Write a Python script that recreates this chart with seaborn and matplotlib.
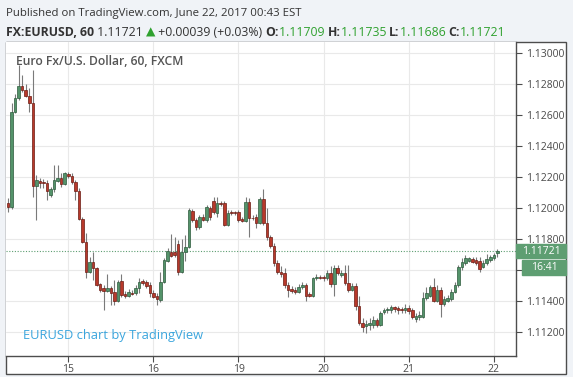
"""
EURUSD 60-minute candles, TradingView style snapshot (June 14-22, 2017)
"""

import numpy as np
import pandas as pd
import matplotlib
matplotlib.use("Agg")
import matplotlib.pyplot as plt
from matplotlib.patches import Rectangle
from matplotlib.transforms import IdentityTransform
import seaborn as sns

# ── Data ───────────────────────────────────────────────────────────────────────
OPENS = [
    1.12034, 1.12005, 1.12622, 1.12708, 1.12787, 1.12761, 1.12722, 1.12675, 1.12142, 1.12176,
    1.12170, 1.12163, 1.12084, 1.12121, 1.12176, 1.12192, 1.12158, 1.12219, 1.12206, 1.12170,
    1.12112, 1.11927, 1.11783, 1.11589, 1.11654, 1.11611, 1.11509, 1.11484, 1.11462, 1.11485,
    1.11458, 1.11400, 1.11531, 1.11443, 1.11434, 1.11453, 1.11450, 1.11482, 1.11529, 1.11521,
    1.11503, 1.11453, 1.11434, 1.11406, 1.11521, 1.11660, 1.11718, 1.11718, 1.11768, 1.11589,
    1.11718, 1.11750, 1.11981, 1.11923, 1.11875, 1.11944, 1.11923, 1.11998, 1.12047, 1.11970,
    1.12030, 1.12030, 1.11890, 1.11976, 1.11972, 1.11976, 1.11929, 1.11918, 1.12041, 1.11937,
    1.11944, 1.11905, 1.12058, 1.11901, 1.11811, 1.11757, 1.11643, 1.11589, 1.11579, 1.11503,
    1.11477, 1.11471, 1.11460, 1.11489, 1.11505, 1.11443, 1.11434, 1.11547, 1.11557, 1.11553,
    1.11547, 1.11579, 1.11509, 1.11611, 1.11566, 1.11581, 1.11519, 1.11471, 1.11494, 1.11368,
    1.11256, 1.11240, 1.11244, 1.11244, 1.11277, 1.11248, 1.11329, 1.11339, 1.11342, 1.11361,
    1.11355, 1.11348, 1.11339, 1.11355, 1.11339, 1.11282, 1.11295, 1.11299, 1.11418, 1.11434,
    1.11489, 1.11403, 1.11471, 1.11381, 1.11403, 1.11411, 1.11460, 1.11503, 1.11618, 1.11643,
    1.11660, 1.11669, 1.11665, 1.11658, 1.11621, 1.11643, 1.11665, 1.11676, 1.11709,
]
HIGHS = [
    1.12063, 1.12679, 1.12733, 1.12922, 1.12858, 1.12800, 1.12774, 1.12890, 1.12213, 1.12192,
    1.12187, 1.12181, 1.12137, 1.12277, 1.12277, 1.12224, 1.12234, 1.12232, 1.12224, 1.12181,
    1.12127, 1.11944, 1.11837, 1.11686, 1.11718, 1.11622, 1.11518, 1.11503, 1.11572, 1.11496,
    1.11535, 1.11535, 1.11572, 1.11465, 1.11477, 1.11471, 1.11503, 1.11547, 1.11542, 1.11535,
    1.11525, 1.11471, 1.11450, 1.11589, 1.11678, 1.11740, 1.11832, 1.11815, 1.11794, 1.11800,
    1.11826, 1.12000, 1.11994, 1.11935, 1.11955, 1.11961, 1.12019, 1.12013, 1.12073, 1.12071,
    1.12045, 1.12045, 1.11987, 1.11987, 1.11983, 1.11987, 1.11942, 1.12071, 1.12065, 1.11955,
    1.11961, 1.12071, 1.12121, 1.12000, 1.11826, 1.11774, 1.11665, 1.11626, 1.11613, 1.11522,
    1.11497, 1.11490, 1.11509, 1.11522, 1.11516, 1.11458, 1.11555, 1.11574, 1.11568, 1.11568,
    1.11600, 1.11626, 1.11632, 1.11632, 1.11600, 1.11632, 1.11632, 1.11516, 1.11516, 1.11432,
    1.11290, 1.11277, 1.11290, 1.11303, 1.11290, 1.11335, 1.11355, 1.11361, 1.11374, 1.11368,
    1.11368, 1.11361, 1.11381, 1.11374, 1.11355, 1.11323, 1.11335, 1.11458, 1.11490, 1.11503,
    1.11547, 1.11503, 1.11490, 1.11432, 1.11439, 1.11477, 1.11522, 1.11632, 1.11678, 1.11697,
    1.11684, 1.11684, 1.11684, 1.11686, 1.11665, 1.11703, 1.11697, 1.11710, 1.11735,
]
LOWS = [
    1.11976, 1.11992, 1.12611, 1.12697, 1.12748, 1.12716, 1.12621, 1.12073, 1.11923, 1.12127,
    1.12129, 1.12052, 1.12073, 1.12105, 1.12170, 1.12137, 1.12150, 1.12194, 1.12155, 1.12052,
    1.11923, 1.11772, 1.11547, 1.11579, 1.11535, 1.11497, 1.11458, 1.11342, 1.11455, 1.11371,
    1.11371, 1.11393, 1.11428, 1.11419, 1.11426, 1.11439, 1.11439, 1.11450, 1.11503, 1.11484,
    1.11428, 1.11419, 1.11371, 1.11395, 1.11516, 1.11654, 1.11684, 1.11686, 1.11568, 1.11580,
    1.11660, 1.11742, 1.11910, 1.11858, 1.11865, 1.11916, 1.11910, 1.11923, 1.11961, 1.11942,
    1.12013, 1.11884, 1.11884, 1.11955, 1.11955, 1.11910, 1.11910, 1.11910, 1.11810, 1.11923,
    1.11871, 1.11897, 1.11890, 1.11794, 1.11742, 1.11626, 1.11574, 1.11555, 1.11484, 1.11426,
    1.11452, 1.11445, 1.11452, 1.11477, 1.11400, 1.11426, 1.11426, 1.11535, 1.11542, 1.11529,
    1.11535, 1.11490, 1.11432, 1.11568, 1.11555, 1.11503, 1.11458, 1.11465, 1.11342, 1.11243,
    1.11200, 1.11194, 1.11213, 1.11226, 1.11232, 1.11240, 1.11316, 1.11323, 1.11323, 1.11329,
    1.11316, 1.11323, 1.11323, 1.11316, 1.11284, 1.11265, 1.11277, 1.11290, 1.11407, 1.11426,
    1.11394, 1.11394, 1.11299, 1.11368, 1.11394, 1.11400, 1.11452, 1.11490, 1.11600, 1.11632,
    1.11652, 1.11645, 1.11632, 1.11589, 1.11613, 1.11632, 1.11652, 1.11665, 1.11686,
]
CLOSES = [
    1.12005, 1.12622, 1.12708, 1.12787, 1.12761, 1.12722, 1.12675, 1.12142, 1.12181, 1.12163,
    1.12159, 1.12112, 1.12121, 1.12181, 1.12192, 1.12155, 1.12224, 1.12206, 1.12170, 1.12112,
    1.11927, 1.11783, 1.11589, 1.11654, 1.11611, 1.11503, 1.11471, 1.11465, 1.11485, 1.11453,
    1.11398, 1.11525, 1.11439, 1.11432, 1.11456, 1.11445, 1.11486, 1.11525, 1.11514, 1.11497,
    1.11450, 1.11428, 1.11411, 1.11525, 1.11665, 1.11725, 1.11690, 1.11697, 1.11589, 1.11718,
    1.11750, 1.11987, 1.11923, 1.11875, 1.11944, 1.11923, 1.12005, 1.11944, 1.11976, 1.12034,
    1.12024, 1.11890, 1.11970, 1.11966, 1.11966, 1.11923, 1.11918, 1.12041, 1.11933, 1.11933,
    1.11905, 1.12058, 1.11901, 1.11811, 1.11757, 1.11643, 1.11589, 1.11574, 1.11503, 1.11471,
    1.11465, 1.11460, 1.11489, 1.11505, 1.11434, 1.11434, 1.11547, 1.11557, 1.11550, 1.11547,
    1.11579, 1.11509, 1.11611, 1.11579, 1.11581, 1.11517, 1.11471, 1.11497, 1.11368, 1.11256,
    1.11230, 1.11251, 1.11255, 1.11277, 1.11248, 1.11322, 1.11339, 1.11348, 1.11361, 1.11348,
    1.11339, 1.11339, 1.11355, 1.11335, 1.11297, 1.11303, 1.11310, 1.11418, 1.11450, 1.11489,
    1.11403, 1.11468, 1.11381, 1.11413, 1.11418, 1.11460, 1.11503, 1.11618, 1.11650, 1.11676,
    1.11676, 1.11654, 1.11643, 1.11605, 1.11643, 1.11669, 1.11682, 1.11697, 1.11721,
]
SESSION_START = "2017-06-14 07:00"
SESSION_END   = "2017-06-22 01:00"
PRICE_TICKS   = [1.112, 1.114, 1.116, 1.118, 1.120, 1.122, 1.124, 1.126, 1.128, 1.130]

PUBLISHED  = "Published on TradingView.com, June 22, 2017 00:43 EST"
SYMBOL     = "FX:EURUSD, 60"
CHANGE     = "+0.00039 (+0.03%)"
TITLE      = "Euro Fx/U.S. Dollar, 60, FXCM"
WATERMARK  = "EURUSD chart by TradingView"
COUNTDOWN  = "16:41"

# ── Style ──────────────────────────────────────────────────────────────────────
W, H = 573, 377
UP, UP_EDGE     = "#54936a", "#2d5a3c"
DOWN, DOWN_EDGE = "#b8392b", "#6a1c14"
WICK   = "#7a7a7a"
GREEN  = "#2fa12f"
LAST   = "#5e9e72"
DARK   = "#333333"
AXIS   = "#4d4d4d"
GRID   = "#e9e9e9"

sns.set_theme(style="white")
plt.rcParams["font.family"] = ["Open Sans", "DejaVu Sans"]

opens, highs = np.array(OPENS), np.array(HIGHS)
lows, closes = np.array(LOWS), np.array(CLOSES)

# hourly bars, FX market closed Fri 17:00 -> Sun 17:00
times = pd.date_range(SESSION_START, SESSION_END, freq="h")
closed = (((times.dayofweek == 4) & (times.hour >= 17)) | (times.dayofweek == 5)
          | ((times.dayofweek == 6) & (times.hour < 17)))
times = times[~closed]
x = np.arange(len(times))
day_idx = np.where(times.hour == 0)[0]

# ── Figure ─────────────────────────────────────────────────────────────────────
fig = plt.figure(figsize=(W / 100, H / 100), dpi=100, facecolor="#f0f3f7")
px = IdentityTransform()

fig.add_artist(Rectangle((6, H - 374), 560, 332, transform=px, facecolor="white",
                         edgecolor=AXIS, linewidth=1, zorder=-1))

ax = fig.add_axes([6 / W, (H - 356) / H, (516 - 6) / W, (356 - 42) / H])
ax.set_facecolor("white")

for v in PRICE_TICKS:
    ax.axhline(v, color=GRID, lw=0.8, zorder=0)
for i in day_idx:
    ax.axvline(i, color=GRID, lw=0.8, zorder=0)

up = closes >= opens
ax.vlines(x, lows, highs, color=WICK, lw=0.8, zorder=2)
ax.bar(x[up], (closes - opens)[up], bottom=opens[up], width=0.72,
       color=UP, edgecolor=UP_EDGE, linewidth=0.5, zorder=3)
ax.bar(x[~up], (closes - opens)[~up], bottom=opens[~up], width=0.72,
       color=DOWN, edgecolor=DOWN_EDGE, linewidth=0.5, zorder=3)

ax.axhline(closes[-1], color=LAST, ls=(0, (1, 1.5)), lw=0.8, zorder=1)

ax.set_xlim(-0.56, 143.26)
ax.set_ylim(1.11045, 1.13071)

ax.yaxis.tick_right()
ax.set_yticks(PRICE_TICKS)
ax.set_yticklabels([f"{v:.5f}" for v in PRICE_TICKS])
ax.set_xticks(day_idx)
ax.set_xticklabels([str(d) for d in times[day_idx].day])
ax.tick_params(axis="both", length=4, width=0.8, color=AXIS, labelsize=7.5,
               labelcolor="#4a4a4a", pad=3)
ax.tick_params(axis="y", right=True, left=False)
ax.tick_params(axis="x", bottom=True, pad=1.5)
for side in ["top", "left"]:
    ax.spines[side].set_visible(False)
for side in ["right", "bottom"]:
    ax.spines[side].set_color(AXIS)
    ax.spines[side].set_linewidth(1)
ax.grid(False)

# last price tag + countdown (they cover the 1.11600 label, as on the site)
_, ylast = ax.transData.transform((0, closes[-1]))
fig.add_artist(Rectangle((516, ylast - 7), 50, 14, transform=px,
                         facecolor=LAST, edgecolor=LAST, zorder=5))
fig.text(541, ylast, f"{closes[-1]:.5f}", transform=px, color="white",
         fontsize=7.5, ha="center", va="center", zorder=6)
fig.add_artist(Rectangle((522, ylast - 24), 44, 15, transform=px,
                         facecolor=LAST, edgecolor=LAST, zorder=5))
fig.text(544, ylast - 16.5, COUNTDOWN, transform=px, color="white",
         fontsize=7.5, ha="center", va="center", zorder=6)

# chart labels
fig.text(16, H - 65, TITLE, transform=px, color="#555555", fontsize=8.7,
         fontweight="semibold")
fig.text(23, H - 339, WATERMARK, transform=px, color="#3aa5dd", fontsize=9.3)

# header
fig.text(6, H - 16, PUBLISHED, transform=px, color=DARK, fontsize=8.2)

renderer = fig.canvas.get_renderer()
runs = [
    (SYMBOL, DARK, "bold"), (f" {closes[-1]:.5f} ", DARK, "normal"),
    ("\u25b2", GREEN, "normal"), (f" {CHANGE} ", DARK, "normal"),
    ("O:", DARK, "bold"), (f"{opens[-1]:.5f} ", GREEN, "normal"),
    ("H:", DARK, "bold"), (f"{highs[-1]:.5f} ", GREEN, "normal"),
    ("L:", DARK, "bold"), (f"{lows[-1]:.5f} ", GREEN, "normal"),
    ("C:", DARK, "bold"), (f"{closes[-1]:.5f}", GREEN, "normal"),
]
cx = 6
for s, color, weight in runs:
    t = fig.text(cx, H - 36, s, transform=px, color=color, fontsize=8.8,
                 fontweight=weight)
    cx += t.get_window_extent(renderer).width

fig.savefig("out.png", dpi=100, facecolor=fig.get_facecolor())
